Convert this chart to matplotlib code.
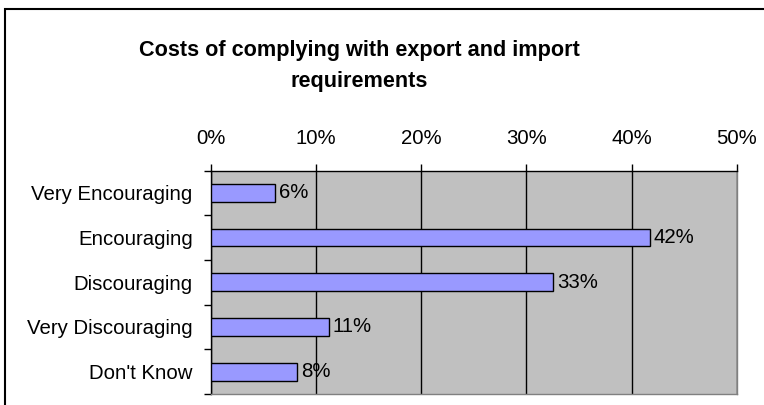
import matplotlib
matplotlib.use("Agg")
import matplotlib.pyplot as plt
from matplotlib.patches import Rectangle
from matplotlib.ticker import FuncFormatter

plt.rcParams['font.family'] = ['Liberation Sans', 'DejaVu Sans']

title = "Costs of complying with export and import\nrequirements"
categories = ["Very Encouraging", "Encouraging", "Discouraging", "Very Discouraging", "Don't Know"]
values = [6.1, 41.7, 32.5, 11.2, 8.2]
labels = ["6%", "42%", "33%", "11%", "8%"]
xticks = [0, 10, 20, 30, 40, 50]

W, H = 764, 405
fig = plt.figure(figsize=(W / 100, H / 100), dpi=100)

# frame around chart (extends beyond image on right/bottom)
fig.patches.append(Rectangle((5 / W, -0.5), 2.0, 1.5 - 9 / H,
                             transform=fig.transFigure, fill=False,
                             edgecolor='black', linewidth=1.5, clip_on=False))

left, right, top, bottom = 210.7, 737.0, 170.5, 394.0
ax = fig.add_axes([left / W, 1 - bottom / H, (right - left) / W, (bottom - top) / H])
ax.set_facecolor('#C0C0C0')

fs = 14.7
ypos = list(range(len(categories)))
ax.barh(ypos, values, height=0.4, color='#9999FF', edgecolor='black', linewidth=1.0, zorder=3)
for y, v, lab in zip(ypos, values, labels):
    ax.text(v + 0.4, y, lab, va='center', ha='left', fontsize=fs, color='black', zorder=4)

ax.set_xlim(0, 50)
ax.set_ylim(len(categories) - 0.5, -0.5)
ax.set_xticks(xticks)
ax.xaxis.set_major_formatter(FuncFormatter(lambda x, p: f"{int(round(x))}%"))
ax.xaxis.tick_top()
ax.tick_params(axis='x', which='major', direction='out', length=5, width=1, pad=11,
               labelsize=fs, color='black')
ax.set_yticks(ypos)
ax.set_yticklabels(categories)
ax.set_yticks([i + 0.5 for i in range(-1, len(categories))], minor=True)
ax.tick_params(axis='y', which='major', length=0, pad=13, labelsize=fs)
ax.tick_params(axis='y', which='minor', direction='out', length=5, width=1, color='black')
ax.grid(axis='x', color='black', linewidth=1, zorder=1)
ax.set_axisbelow(True)
for s in ['top', 'left']:
    ax.spines[s].set_color('black')
    ax.spines[s].set_linewidth(1)
for s in ['right', 'bottom']:
    ax.spines[s].set_color('#808080')
    ax.spines[s].set_linewidth(1)

fig.text(359 / W, 1 - 66 / H, title, ha='center', va='center', fontsize=15.6,
         fontweight='bold', linespacing=1.65)

fig.savefig('out.png', dpi=100)
